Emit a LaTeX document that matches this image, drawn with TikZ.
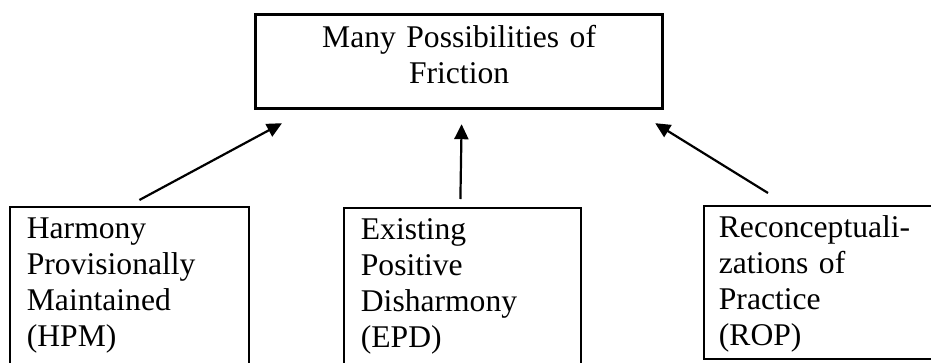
\documentclass[tikz,border=0pt]{standalone}
\usepackage{fontspec}
\setmainfont{Liberation Serif}
\usetikzlibrary{arrows.meta, calc}

\begin{document}
\begin{tikzpicture}
		[x=1pt,y=-1pt,line cap=butt,
		%Styles
		every node/.style={font=\fontsize{31.6pt}{35.7pt}\selectfont},
		top box/.style={draw,line width=3.2pt,anchor=north west,align=center,
			text width=#1,inner xsep=8pt,inner ysep=6pt,text height=27pt,text depth=55pt},
		level box/.style={draw,line width=1.8pt,anchor=north west,align=left,
			text width=#1,inner xsep=17pt,inner ysep=6pt,text height=26pt},
		push/.style={line width=2.2pt,-{Triangle[length=15pt,width=14pt]}}
		]
		
		%The graphic
		\clip (0, 0) rectangle (931, 362);
		
		\node[top box=391pt] (friction) at (254, 13)
			{Many Possibilities of\\Friction};
		
		\node[level box=205pt,text depth=130pt] (hpm) at (9, 206)
			{Harmony\\Provisionally\\Maintained\\(HPM)};
		\node[level box=203pt,text depth=130pt] (epd) at (343, 207)
			{Existing\\Positive\\Disharmony\\(EPD)};
		\node[level box=208pt,text depth=115pt,inner xsep=15pt] (rop) at (703, 205)
			{Reconceptuali-\\zations of\\Practice\\(ROP)};
		
		\draw[push] ($(hpm.north)+(10, -6)$) -- ($(friction.south west)+(28, 13)$);
		\draw[push] ($(epd.north)+(-2, -8)$) -- ($(friction.south)+(2.5, 14)$);
		\draw[push] ($(rop.north west)+(65, -12)$) -- ($(friction.south east)+(-9, 13)$);
	\end{tikzpicture}
\end{document}
